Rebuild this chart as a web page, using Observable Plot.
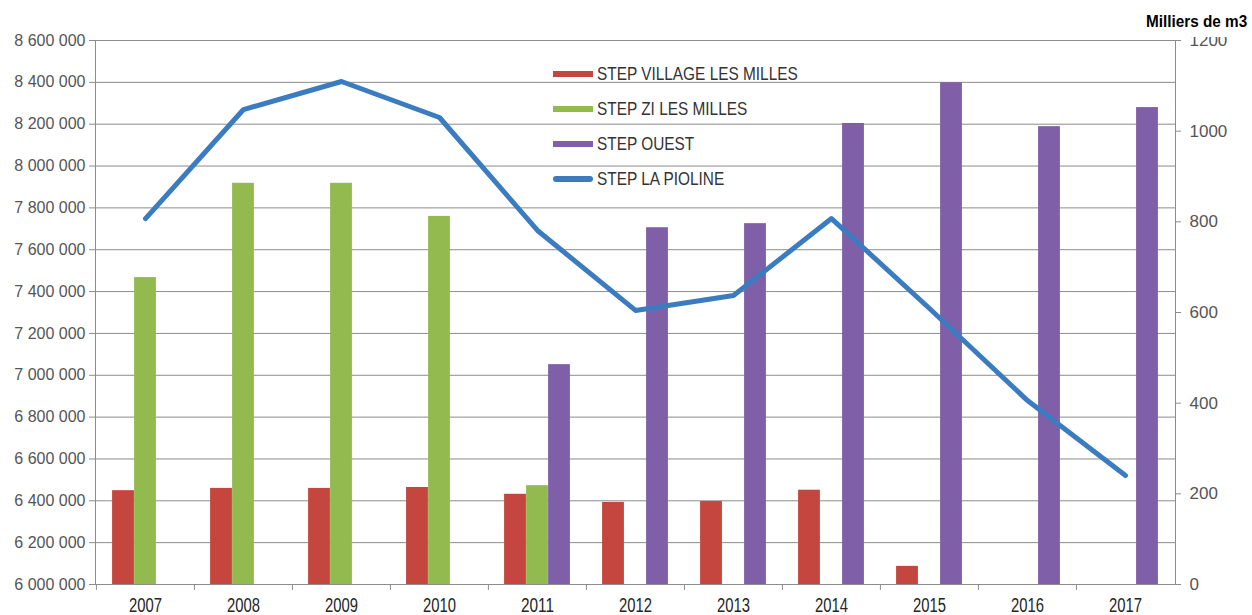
<!DOCTYPE html>
<html>
<head>
<meta charset="utf-8">
<script src="https://cdn.jsdelivr.net/npm/d3@7"></script>
<script src="https://cdn.jsdelivr.net/npm/@observablehq/plot@0.6"></script>
<style>
  body { margin: 0; background: #fff; font-family: "Liberation Sans", Arial, sans-serif; }
  #wrap { position: relative; width: 1252px; height: 615px; overflow: hidden; background: #fff; }
  #title { position: absolute; left: 1146px; top: 6px; width: 106px; height: 24px; padding-top: 7px; background: #fff; }
  #title span { display: inline-block; font-weight: bold; font-size: 17px; line-height: 17px; color: #000; transform: scaleX(0.9); transform-origin: left center; white-space: nowrap; }
  .lg-row { position: absolute; left: 553px; height: 20px; width: 260px; }
  .lg-sw { position: absolute; left: 0; top: 7px; width: 40px; height: 6px; }
  .lg-tx { position: absolute; left: 44px; top: 0; font-size: 19px; line-height: 20px; color: #333; white-space: nowrap; transform: scaleX(0.81); transform-origin: left center; }
</style>
</head>
<body>
<div id="wrap"></div>
<script>
// ---- data ----
const years = ["2007","2008","2009","2010","2011","2012","2013","2014","2015","2016","2017"];
// bars, in milliers de m3 (right axis)
const villageLesMilles = [207, 212, 212, 214, 199, 181, 183, 208, 40, null, null];
const ziLesMilles      = [677, 885, 885, 812, 218, null, null, null, null, null, null];
const ouest            = [null, null, null, null, 485, 787, 796, 1017, 1107, 1010, 1052];
// line, in m3 (left axis)
const laPioline = [7749000, 8270000, 8404000, 8232000, 7692000, 7310000, 7381000, 7749000, 7319000, 6879000, 6521000];
const seriesNames = ["STEP VILLAGE LES MILLES", "STEP ZI LES MILLES", "STEP OUEST", "STEP LA PIOLINE"];
const leftTicks = [6000000, 6200000, 6400000, 6600000, 6800000, 7000000, 7200000, 7400000, 7600000, 7800000, 8000000, 8200000, 8400000, 8600000];
const rightTicks = [0, 200, 400, 600, 800, 1000, 1200];
const rightTitle = "Milliers de m3";

// ---- layout / style ----
const W = 1252, H = 615, mL = 95, mR = 77, mT = 40, mB = 31;
const colors = ["#c4463f", "#93ba4f", "#7f60a8", "#3b7cc0"];
const gridColor = "#8c8c8c";
const leftMin = leftTicks[0], leftMax = leftTicks[leftTicks.length - 1];
const rightMax = rightTicks[rightTicks.length - 1];
const toLeft = v => leftMin + v * (leftMax - leftMin) / rightMax;
const fromLeft = v => (v - leftMin) * rightMax / (leftMax - leftMin);
const bw = (W - mL - mR) / years.length;
const barW = 22;
const rows = vals => years.map((year, i) => ({year, v: vals[i]})).filter(d => d.v != null);
const fmtLeft = d => d3.format(",")(d).replace(/,/g, " ");

const barSeries = [villageLesMilles, ziLesMilles, ouest];
const barMarks = barSeries.map((vals, k) =>
  Plot.barY(rows(vals), {
    x: "year",
    y1: leftMin,
    y2: d => toLeft(d.v),
    fill: colors[k],
    dx: (k - 1) * barW,
    insetLeft: (bw - barW) / 2,
    insetRight: (bw - barW) / 2
  })
);

const plot = Plot.plot({
  width: W, height: H,
  marginLeft: mL, marginRight: mR, marginTop: mT, marginBottom: mB,
  style: {background: "#fff", fontFamily: "'Liberation Sans', Arial, sans-serif", overflow: "visible"},
  x: {type: "band", domain: years, padding: 0, axis: null},
  y: {domain: [leftMin, leftMax], axis: null},
  marks: [
    Plot.gridY(leftTicks, {stroke: gridColor, strokeOpacity: 1}),
    ...barMarks,
    Plot.line(rows(laPioline), {x: "year", y: "v", stroke: colors[3], strokeWidth: 5, strokeLinejoin: "round", strokeLinecap: "round"}),
    Plot.frame({stroke: gridColor}),
    Plot.ruleX(years, {x: d => d, dx: -bw / 2, y1: leftMin, y2: leftMin, insetBottom: -6, stroke: gridColor}),
    Plot.axisY(leftTicks, {anchor: "left", tickSize: 6, tickPadding: 4, tickFormat: fmtLeft, fontSize: 16, fill: "#555", stroke: gridColor, label: null}),
    Plot.axisY(rightTicks.map(toLeft), {anchor: "right", tickSize: 5, tickPadding: 9, tickFormat: d => String(Math.round(fromLeft(d))), fontSize: 17, fill: "#555", stroke: gridColor, label: null}),
    Plot.axisX(years, {tickSize: 0, tickPadding: 13, fontSize: 20, fill: "#262626", label: null})
  ]
});

const wrap = document.getElementById("wrap");
wrap.appendChild(plot);

// condensed look of the category labels
d3.select(plot).selectAll('g[aria-label="x-axis tick label"] text')
  .attr("textLength", 33).attr("lengthAdjust", "spacingAndGlyphs");

// right-axis title
const t = document.createElement("div");
t.id = "title";
t.innerHTML = "<span></span>";
t.firstChild.textContent = rightTitle;
wrap.appendChild(t);

// legend inside the plot
seriesNames.forEach((name, k) => {
  const row = document.createElement("div");
  row.className = "lg-row";
  row.style.top = (64 + k * 35) + "px";
  const sw = document.createElement("div");
  sw.className = "lg-sw";
  sw.style.background = colors[k];
  if (k === 3) sw.style.borderRadius = "3px";
  const tx = document.createElement("div");
  tx.className = "lg-tx";
  tx.textContent = name;
  row.appendChild(sw);
  row.appendChild(tx);
  wrap.appendChild(row);
});
</script>
</body>
</html>
